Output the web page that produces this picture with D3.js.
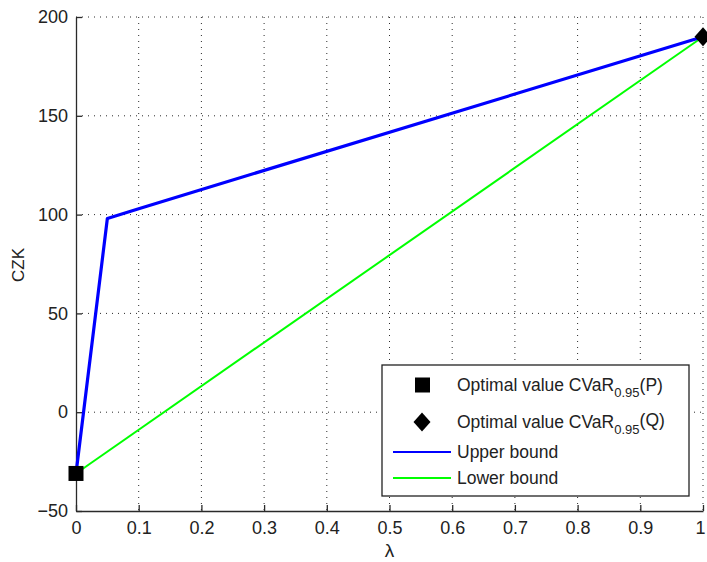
<!DOCTYPE html>
<html>
<head>
<meta charset="utf-8">
<script src="https://cdn.jsdelivr.net/npm/d3@7"></script>
<style>
  body { margin: 0; background: #fff; }
  text { font-family: "Liberation Sans", Arial, sans-serif; fill: #222; }
</style>
</head>
<body>
<script>
const lambdaUpper = [0, 0.05, 0.1, 1];
const upperBound = [-31, 98, 103, 190];
const lambdaLower = [0, 1];
const lowerBound = [-31, 190];
const optP = [0, -31];
const optQ = [1, 190];
const xTicks = [0, 0.1, 0.2, 0.3, 0.4, 0.5, 0.6, 0.7, 0.8, 0.9, 1];
const yTicks = [-50, 0, 50, 100, 150, 200];
const legendLabels = ["Optimal value CVaR", "Optimal value CVaR", "Upper bound", "Lower bound"];

const W = 707, H = 562;
const margin = { top: 17, right: 4, bottom: 51, left: 76 };
const width = W - margin.left - margin.right;
const height = H - margin.top - margin.bottom;
const axisColor = "#2a2a2a";

const svg = d3.select("body").append("svg")
  .attr("width", W)
  .attr("height", H);
const g = svg.append("g")
  .attr("transform", `translate(${margin.left},${margin.top})`);

const x = d3.scaleLinear().domain([0, 1]).range([0, width]);
const y = d3.scaleLinear().domain([-50, 200]).range([height, 0]);

// diamond marker, wider than d3's own
const diamond = (w, h) => `M0,${-h / 2}L${w / 2},0L0,${h / 2}L${-w / 2},0Z`;

// dotted grid
g.append("g").selectAll("line.vg")
  .data(xTicks.slice(1))
  .enter().append("line")
  .attr("x1", d => x(d)).attr("x2", d => x(d))
  .attr("y1", 0).attr("y2", height)
  .attr("style", `stroke: ${axisColor}; stroke-width: 1; stroke-dasharray: 1,5;`);
g.append("g").selectAll("line.hg")
  .data(yTicks.slice(1))
  .enter().append("line")
  .attr("x1", 0).attr("x2", width)
  .attr("y1", d => y(d)).attr("y2", d => y(d))
  .attr("style", `stroke: ${axisColor}; stroke-width: 1; stroke-dasharray: 1,5;`);

// axes with inward ticks
const xAxis = g.append("g")
  .attr("transform", `translate(0,${height})`)
  .call(d3.axisBottom(x).tickValues(xTicks).tickFormat(d3.format("")).tickSizeInner(-6).tickSizeOuter(0).tickPadding(10));
const yAxis = g.append("g")
  .call(d3.axisLeft(y).tickValues(yTicks).tickFormat(d3.format("")).tickSizeInner(-6).tickSizeOuter(0).tickPadding(8));
[xAxis, yAxis].forEach(a => {
  a.select(".domain").attr("stroke", axisColor).attr("stroke-width", 1.3);
  a.selectAll(".tick line").attr("stroke", axisColor).attr("stroke-width", 1.3);
  a.selectAll(".tick text").attr("fill", "#222").style("font-size", "18px")
    .style("font-family", "'Liberation Sans', Arial, sans-serif");
});
// keep the last x label inside the page
xAxis.selectAll(".tick text").filter(d => d === 1).attr("dx", -3);

// lines
const line = d3.line().x(d => x(d[0])).y(d => y(d[1]));
g.append("path")
  .datum(lambdaLower.map((l, i) => [l, lowerBound[i]]))
  .attr("d", line)
  .attr("style", "fill: none; stroke: #00ff00; stroke-width: 2;");
g.append("path")
  .datum(lambdaUpper.map((l, i) => [l, upperBound[i]]))
  .attr("d", line)
  .attr("style", "fill: none; stroke: #0000ff; stroke-width: 3.2; stroke-linejoin: round;");

// markers
g.append("rect")
  .attr("x", x(optP[0]) - 7.5).attr("y", y(optP[1]) - 7.5)
  .attr("width", 15).attr("height", 15)
  .attr("fill", "#000");
g.append("path")
  .attr("d", diamond(17, 19))
  .attr("transform", `translate(${x(optQ[0])},${y(optQ[1])})`)
  .attr("fill", "#000");

// axis labels
svg.append("text")
  .attr("x", margin.left + width / 2)
  .attr("y", 557)
  .attr("text-anchor", "middle")
  .style("font-size", "19px")
  .text("λ");
svg.append("text")
  .attr("transform", "translate(24,265) rotate(-90)")
  .attr("text-anchor", "middle")
  .style("font-size", "17px")
  .text("CZK");

// legend
const lg = svg.append("g");
lg.append("rect")
  .attr("x", 382).attr("y", 365)
  .attr("width", 307).attr("height", 131)
  .attr("style", "fill: #fff; stroke: #222; stroke-width: 1.3;");
const rowsY = [385, 422, 452, 478];
const textX = 457;
legendLabels.forEach((label, i) => {
  const t = lg.append("text")
    .attr("x", textX).attr("y", rowsY[i] + 6)
    .style("font-size", "17.5px")
    .text(label);
  if (i < 2) {
    t.append("tspan").attr("dy", 6).style("font-size", "13px").text("0.95");
    t.append("tspan").attr("dy", i === 0 ? -6 : -8).text(i === 0 ? "(P)" : "(Q)");
  }
});
lg.append("rect")
  .attr("x", 415).attr("y", rowsY[0] - 7.5)
  .attr("width", 15).attr("height", 15)
  .attr("fill", "#000");
lg.append("path")
  .attr("d", diamond(17, 19))
  .attr("transform", `translate(422,${rowsY[1]})`)
  .attr("fill", "#000");
lg.append("line")
  .attr("x1", 393).attr("x2", 451)
  .attr("y1", rowsY[2]).attr("y2", rowsY[2])
  .attr("style", "stroke: #0000ff; stroke-width: 2;");
lg.append("line")
  .attr("x1", 393).attr("x2", 451)
  .attr("y1", rowsY[3]).attr("y2", rowsY[3])
  .attr("style", "stroke: #00ff00; stroke-width: 2;");
</script>
</body>
</html>
